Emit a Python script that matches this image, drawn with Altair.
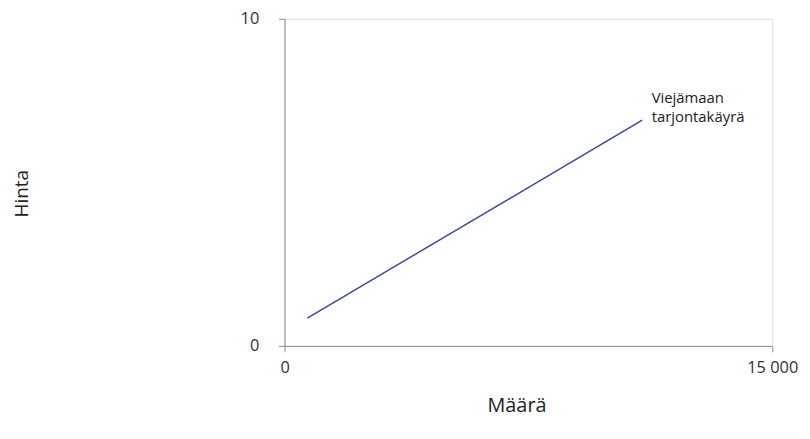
import altair as alt
import pandas as pd

# data
quantity = [700, 11000]
price = [0.85, 6.9]
label_lines = ["Viejämaan", "tarjontakäyrä"]
label_x = [11290]
label_y = [7.43]
x_ticks = [0, 15000]
y_ticks = [0, 10]

line_df = pd.DataFrame({"Määrä": quantity, "Hinta": price})
label_df = pd.DataFrame({"x": label_x, "y": label_y, "t": [label_lines]})

FONT = "Open Sans"

x_scale = alt.Scale(domain=[0, 15000], nice=False, zero=False)
y_scale = alt.Scale(domain=[0, 10], nice=False, zero=False)

line = alt.Chart(line_df).mark_line(color="#3f4ba0", strokeWidth=1.5).encode(
    x=alt.X(
        "Määrä:Q",
        scale=x_scale,
        axis=alt.Axis(
            values=x_ticks,
            grid=False,
            title="Määrä",
            labelExpr="replace(format(datum.value, ','), ',', ' ')",
            labelFontSize=16.5,
            labelColor="#333333",
            labelPadding=8,
            labelFlush=False,
            tickSize=6,
            tickColor="#8c8c8c",
            domainColor="#8c8c8c",
            titleFontSize=20,
            titleFontWeight="normal",
            titleColor="#222222",
            titleX=234,
            titleY=66,
            titleBaseline="alphabetic",
            titleAlign="center",
        ),
    ),
    y=alt.Y(
        "Hinta:Q",
        scale=y_scale,
        axis=alt.Axis(
            values=y_ticks,
            grid=False,
            title="Hinta",
            labelFontSize=16.5,
            labelColor="#333333",
            labelPadding=20,
            labelFlush=False,
            tickSize=6,
            tickColor="#8c8c8c",
            domainColor="#8c8c8c",
            titleFontSize=19,
            titleFontWeight="normal",
            titleColor="#222222",
            titleAngle=-90,
            titleX=-259,
            titleY=176,
            titleBaseline="alphabetic",
            titleAlign="center",
        ),
    ),
)

label = alt.Chart(label_df).mark_text(
    align="left",
    baseline="alphabetic",
    fontSize=15,
    lineHeight=19,
    color="#222222",
    font=FONT,
).encode(
    x=alt.X("x:Q", scale=x_scale),
    y=alt.Y("y:Q", scale=y_scale),
    text="t",
)

chart = (
    alt.layer(line, label)
    .properties(
        width=492,
        height=330,
        autosize=alt.AutoSizeParams(type="none"),
        padding={"left": 279, "top": 9, "right": 30, "bottom": 90},
    )
    .configure_view(stroke=None)
    .configure(font=FONT)
    .configure_axis(labelFont=FONT, titleFont=FONT)
)

chart.save("out.html", embed_options={"renderer": "svg", "actions": False})
